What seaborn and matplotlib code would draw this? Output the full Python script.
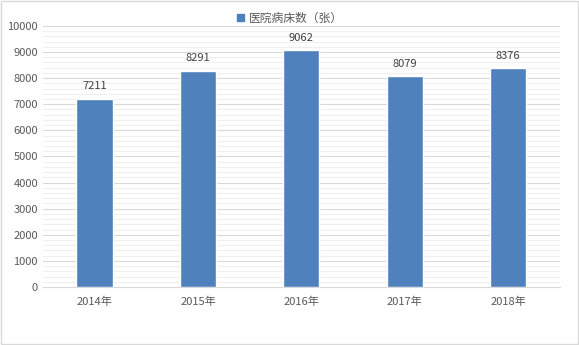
import pandas as pd
import matplotlib.pyplot as plt
import seaborn as sns
from matplotlib.ticker import MultipleLocator
from matplotlib.patches import Patch

# 数据
years = ['2014年', '2015年', '2016年', '2017年', '2018年']
beds = [7211, 8291, 9062, 8079, 8376]
series_name = '医院病床数（张）'

df = pd.DataFrame({'year': years, 'beds': beds})

sns.set_style('white')
plt.rcParams['font.family'] = ['Noto Sans CJK SC', 'DejaVu Sans']

fig = plt.figure(figsize=(5.79, 3.45), dpi=100)
ax = fig.add_axes([0.074, 0.168, 0.893, 0.757])

sns.barplot(data=df, x='year', y='beds', color='#4F81BD', width=0.35,
            saturation=1, ax=ax, zorder=3)

ax.set_ylim(0, 10000)
ax.yaxis.set_major_locator(MultipleLocator(1000))
ax.yaxis.set_minor_locator(MultipleLocator(200))
ax.grid(axis='y', which='major', color='#D9D9D9', linewidth=0.8, zorder=0)
ax.grid(axis='y', which='minor', color='#EFEFEF', linewidth=0.8, zorder=0)
ax.set_axisbelow(True)

for s in ['top', 'right', 'left']:
    ax.spines[s].set_visible(False)
ax.spines['bottom'].set_color('#D9D9D9')

ax.tick_params(axis='both', which='both', length=0, labelsize=8, colors='#595959')
ax.tick_params(axis='x', pad=7)
ax.set_xlabel('')
ax.set_ylabel('')

for i, v in enumerate(beds):
    ax.text(i, v + 280, str(v), ha='center', va='bottom', fontsize=8, color='#404040')

handles = [Patch(color='#4F81BD', label=series_name)]
fig.legend(handles=handles, loc='center', bbox_to_anchor=(0.5, 0.947), frameon=False,
           fontsize=8.5, handlelength=0.6, handleheight=0.6, handletextpad=0.4,
           labelcolor='#595959')

fig.patches.append(plt.Rectangle((0.001, 0.002), 0.997, 0.996, transform=fig.transFigure,
                                 fill=False, edgecolor='#D9D9D9', linewidth=1))

fig.savefig('out.png', dpi=100)
